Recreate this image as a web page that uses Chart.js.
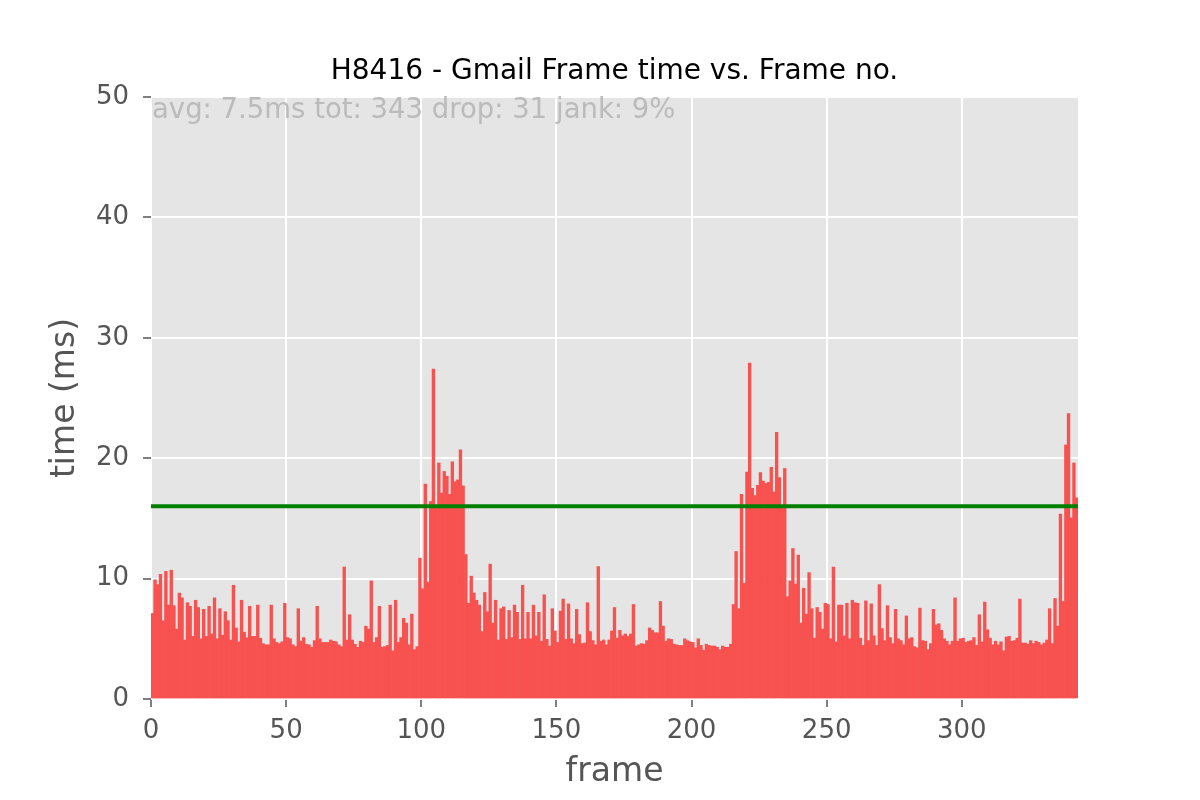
<!DOCTYPE html>
<html>
<head>
<meta charset="utf-8">
<script src="https://cdn.jsdelivr.net/npm/chart.js@4.4.0/dist/chart.umd.min.js"></script>
<style>
  html, body { margin: 0; padding: 0; background: #ffffff; }
  canvas { display: block; }
</style>
</head>
<body>
<canvas id="c" width="1200" height="800"></canvas>
<script>
// ---- data ----
const chartTitle = 'H8416 - Gmail Frame time vs. Frame no.';
const statsText = 'avg: 7.5ms tot: 343 drop: 31 jank: 9%';
const xAxisLabel = 'frame';
const yAxisLabel = 'time (ms)';

// frame time in ms, frames 0..342
const frameTimes = [
  7.1, 9.9, 9.5, 10.35, 6.5, 10.6, 7.8, 10.7, 7.75, 5.8, 8.8, 8.4, 4.9, 8.0, 7.7, 5.2, 8.2, 7.6, 5.0, 7.45,
  5.2, 7.7, 5.4, 8.4, 5.0, 7.5, 5.3, 7.25, 6.5, 4.9, 9.45, 5.9, 4.75, 8.2, 5.55, 5.1, 7.7, 5.2, 5.2, 7.8,
  5.05, 4.6, 4.5,
  4.5, 7.8, 5.0, 4.7, 4.6, 4.75, 7.95, 5.1, 5.0, 4.5, 4.35, 7.5, 4.8, 5.1, 4.55, 4.5, 4.3, 4.85, 7.7, 5.0,
  4.7, 4.7, 4.7, 4.9, 4.8, 4.75, 4.5, 4.35, 10.96, 4.9, 7.0, 4.9, 4.55, 4.3, 4.8, 4.7, 6.05, 5.8, 9.8, 4.7,
  5.1, 7.7, 4.3,
  4.35, 4.45, 7.8, 4.0, 8.2, 4.7, 5.1, 6.7, 6.3, 4.5, 7.05, 4.1, 4.35, 11.7, 9.15, 17.85, 9.7, 16.4, 27.4, 16.1,
  19.6, 17.1, 18.9, 18.5, 17.0, 19.7, 18.05, 18.2, 20.7, 17.7, 12.0, 7.95, 10.2, 8.8, 8.2, 7.8, 5.6, 8.85, 7.25, 11.2,
  6.3, 8.2, 4.9,
  7.5, 7.65, 4.95, 7.35, 5.1, 7.8, 7.2, 4.95, 9.45, 5.0, 7.2, 5.0, 7.8, 5.25, 7.2, 4.8, 8.65, 4.95, 4.4, 7.5,
  5.65, 4.7, 7.3, 8.3, 4.95, 7.9, 5.0, 4.6, 7.45, 5.35, 4.6, 4.65, 8.0, 5.6, 4.85, 4.5, 11.0, 4.8, 4.9, 4.5,
  4.9, 5.65, 7.6,
  5.05, 5.7, 5.25, 5.4, 5.2, 5.4, 7.85, 4.4, 4.5, 4.6, 4.55, 4.85, 5.9, 5.7, 5.5, 5.5, 8.1, 6.05, 4.8, 5.0,
  4.95, 4.55, 4.5, 4.45, 4.45, 5.0, 4.85, 4.75, 4.7, 4.25, 5.0, 4.45, 4.05, 4.55, 4.45, 4.4, 4.4, 4.3, 4.1, 4.4,
  4.3, 4.3, 4.55,
  7.85, 12.25, 7.5, 17.0, 9.6, 18.85, 27.9, 17.5, 16.9, 17.75, 18.8, 18.1, 17.9, 18.0, 19.25, 17.2, 22.15, 18.4, 16.0, 19.15,
  8.5, 9.8, 12.5, 9.55, 11.95, 6.3, 9.2, 7.05, 10.5, 7.5, 5.05, 7.6, 7.2, 5.8, 7.95, 7.85, 5.0, 10.95, 4.75, 7.8,
  7.8, 5.25, 7.95,
  5.0, 8.2, 8.0, 7.95, 5.05, 4.45, 8.15, 4.85, 7.9, 5.25, 4.45, 9.5, 5.85, 4.85, 7.75, 5.1, 4.6, 7.45, 5.0, 4.85,
  4.5, 6.9, 5.0, 5.1, 4.35, 4.25, 7.55, 4.85, 4.8, 4.1, 4.6, 7.45, 6.15, 6.25, 5.7, 5.0, 4.8, 4.5, 4.8, 8.4,
  4.8, 5.0, 5.05,
  4.7, 4.8, 4.85, 5.1, 4.45, 7.0, 4.75, 8.05, 5.75, 5.05, 4.5, 4.8, 4.5, 4.75, 4.0, 5.15, 5.2, 4.8, 4.85, 5.05,
  8.3, 4.65, 4.65, 4.55, 4.85, 4.6, 4.8, 4.7, 4.5, 4.65, 4.9, 7.5, 4.6, 8.35, 6.05, 15.35, 8.1, 21.1, 23.7, 15.05,
  19.6, 16.7
];

const frameIndex = frameTimes.map((_, i) => i);   // frame numbers 0..342
const xRange = [0, 343];
const xTickStep = 50;
const yRange = [0, 50];
const yTickStep = 10;
const jankThresholdMs = 16;

// ---- styling ----
const FONT = 'DejaVu Sans';
Chart.defaults.font.family = FONT;

const plotBackground = {
  id: 'plotBackground',
  beforeDraw(chart) {
    const { ctx, chartArea: a } = chart;
    ctx.save();
    ctx.fillStyle = '#E5E5E5';
    ctx.fillRect(a.left, a.top, a.right - a.left, a.bottom - a.top);
    ctx.restore();
  }
};

// title centred over the axes, plus the stats line inside the plot
const textLabels = {
  id: 'textLabels',
  afterDraw(chart) {
    const { ctx, chartArea: a } = chart;
    ctx.save();
    ctx.font = '28px "' + FONT + '"';
    ctx.fillStyle = '#000000';
    ctx.textAlign = 'center';
    ctx.textBaseline = 'alphabetic';
    ctx.fillText(chartTitle, (a.left + a.right) / 2, a.top - 18);

    ctx.font = '27.5px "' + FONT + '"';
    ctx.fillStyle = '#BBBBBB';
    ctx.textAlign = 'left';
    ctx.fillText(statsText, a.left + 1, a.top + 21);
    ctx.restore();
  }
};

new Chart(document.getElementById('c'), {
  type: 'bar',
  data: {
    datasets: [
      {
        type: 'line',
        data: [{ x: xRange[0], y: jankThresholdMs }, { x: xRange[1], y: jankThresholdMs }],
        borderColor: '#008000',
        borderWidth: 4,
        pointRadius: 0,
        fill: false,
        order: 1
      },
      {
        type: 'bar',
        data: frameIndex.map((f, i) => ({ x: f + 0.5, y: frameTimes[i] })),
        backgroundColor: '#F85250',
        borderWidth: 0,
        barPercentage: 1.0,
        categoryPercentage: 1.0,
        order: 2
      }
    ]
  },
  options: {
    responsive: false,
    animation: false,
    devicePixelRatio: 1,
    layout: { padding: { left: 0, right: 122, top: 97, bottom: 0 } },
    plugins: {
      legend: { display: false },
      tooltip: { enabled: false },
      title: { display: false }
    },
    scales: {
      x: {
        type: 'linear',
        min: xRange[0],
        max: xRange[1],
        offset: false,
        ticks: {
          stepSize: xTickStep,
          includeBounds: false,
          autoSkip: false,
          maxRotation: 0,
          minRotation: 0,
          color: '#555555',
          font: { family: FONT, size: 26 },
          padding: 9
        },
        grid: {
          offset: false,
          color: '#FFFFFF',
          lineWidth: 2,
          tickColor: '#555555',
          tickLength: 8,
          tickWidth: 1.5
        },
        border: { display: false },
        title: {
          display: true,
          text: xAxisLabel,
          color: '#555555',
          font: { family: FONT, size: 33 },
          padding: { top: 0, bottom: 8 }
        },
        afterFit(scale) { scale.height = 101; }
      },
      y: {
        type: 'linear',
        min: yRange[0],
        max: yRange[1],
        ticks: {
          stepSize: yTickStep,
          color: '#555555',
          font: { family: FONT, size: 26 },
          padding: 14
        },
        grid: {
          color: '#FFFFFF',
          lineWidth: 2,
          tickColor: '#555555',
          tickLength: 8,
          tickWidth: 1.5
        },
        border: { display: false },
        title: {
          display: true,
          text: yAxisLabel,
          color: '#555555',
          font: { family: FONT, size: 33 },
          padding: { top: 46, bottom: 0 }
        },
        afterFit(scale) { scale.width = 151; }
      }
    }
  },
  plugins: [plotBackground, textLabels]
});
</script>
</body>
</html>
